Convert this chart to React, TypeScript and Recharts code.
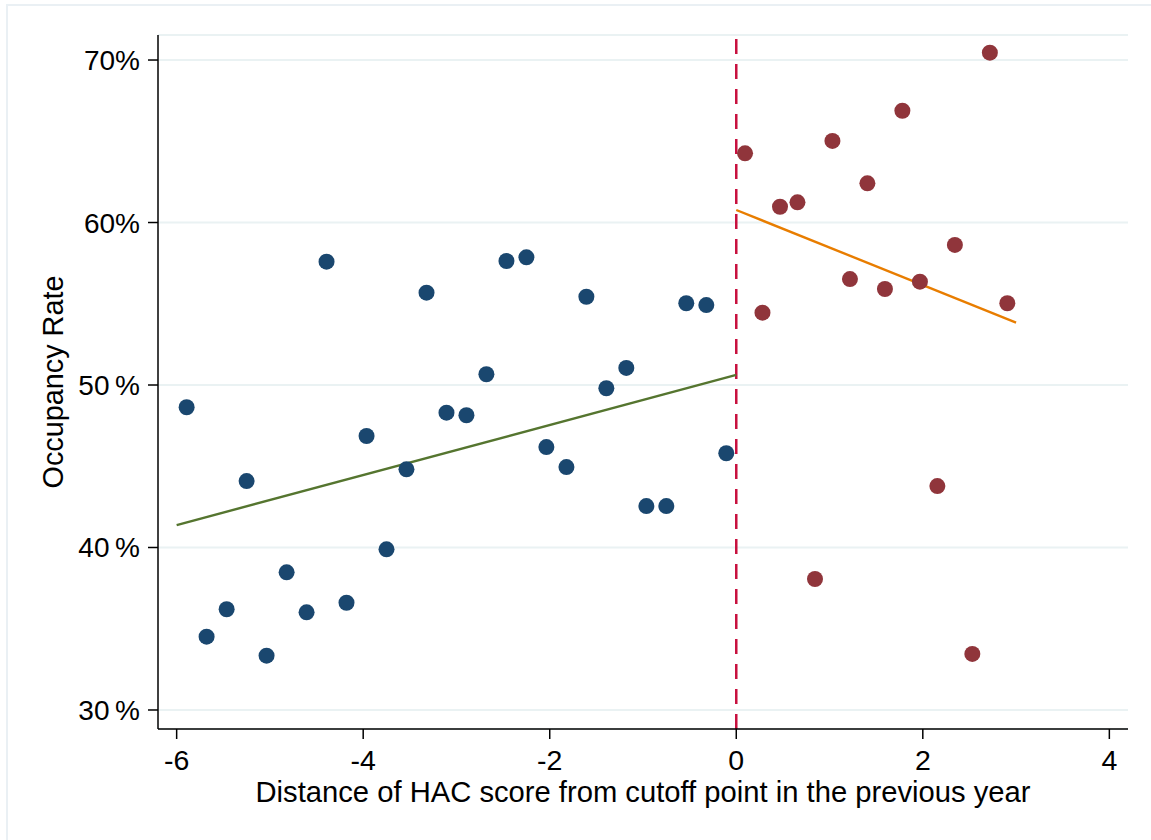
import React from 'react';
import { ComposedChart, Scatter, XAxis, YAxis, CartesianGrid, ReferenceLine } from 'recharts';

// Below-cutoff bins (blue)
const belowX = [-5.893, -5.679, -5.464, -5.25, -5.036, -4.821, -4.607, -4.393, -4.179, -3.964, -3.75, -3.536, -3.321, -3.107,
  -2.893, -2.679, -2.464, -2.25, -2.036, -1.821, -1.607, -1.393, -1.179, -0.964, -0.75, -0.536, -0.321, -0.107];
const belowY = [48.63, 34.51, 36.2, 44.09, 33.34, 38.47, 36.01, 57.59, 36.6, 46.86, 39.89, 44.81, 55.68, 48.3,
  48.14, 50.66, 57.63, 57.86, 46.18, 44.95, 55.43, 49.8, 51.05, 42.55, 42.55, 55.03, 54.92, 45.8];

// Above-cutoff bins (red)
const aboveX = [0.094, 0.281, 0.469, 0.656, 0.844, 1.031, 1.219, 1.406, 1.594, 1.781, 1.969, 2.156, 2.344, 2.531, 2.719, 2.906];
const aboveY = [64.26, 54.45, 60.97, 61.24, 38.06, 65.02, 56.52, 62.41, 55.91, 66.88, 56.36, 43.78, 58.62, 33.45, 70.45, 55.03];

// Linear fits
const fitBelowX = [-6, 0];
const fitBelowY = [41.38, 50.62];
const fitAboveX = [0, 3];
const fitAboveY = [60.77, 53.84];

const xTicks = [-6, -4, -2, 0, 2, 4];
const yTicks = [30, 40, 50, 60, 70];
const yTickLabels = ['30\u2009%', '40\u2009%', '50\u2009%', '60%', '70%'];

const xTitle = 'Distance of HAC score from cutoff point in the previous year';
const yTitle = 'Occupancy Rate';

const zip = (xs: number[], ys: number[]) => xs.map((x, i) => ({ x, y: ys[i] }));
const belowData = zip(belowX, belowY);
const aboveData = zip(aboveX, aboveY);
const fitBelowData = zip(fitBelowX, fitBelowY);
const fitAboveData = zip(fitAboveX, fitAboveY);

const FONT = '"Liberation Sans", Arial, sans-serif';

const dot = (color: string) => (props: any) => (
  <circle cx={props.cx} cy={props.cy} r={8} fill={color} />
);
const noDot = () => <g />;

const XTick = (props: any) => {
  const { x, y, payload } = props;
  return (
    <text x={x} y={y} dy={31} textAnchor="middle" fontSize={28.5} fontFamily={FONT} fill="#000">
      {payload.value}
    </text>
  );
};

const YTick = (props: any) => {
  const { x, y, payload } = props;
  const idx = yTicks.indexOf(payload.value);
  return (
    <text x={x} y={y} dx={-8} dy={10} textAnchor="end" fontSize={28} fontFamily={FONT} fill="#000">
      {idx >= 0 ? yTickLabels[idx] : payload.value}
    </text>
  );
};

export default function App() {
  return (
    <div style={{ position: 'absolute', left: 0, top: 0, width: 1151, height: 840, background: '#fff', overflow: 'hidden' }}>
      <div style={{ position: 'absolute', left: 6, top: 4, width: 1151, height: 840, borderTop: '2px solid #eaf0f4', borderLeft: '2px solid #eaf0f4' }} />
      <div style={{ position: 'absolute', left: 0, top: 0 }}>
        <ComposedChart width={1151} height={840} margin={{ top: 35, right: 23, bottom: 0, left: 0 }}>
          <CartesianGrid horizontal={true} vertical={false} stroke="#eaf2f3" strokeWidth={2} />
          <XAxis
            type="number"
            dataKey="x"
            domain={[-6.2, 4.2]}
            allowDataOverflow
            ticks={xTicks}
            height={111}
            tickSize={10}
            tickMargin={0}
            stroke="#000"
            strokeWidth={1.5}
            tick={<XTick />}
            tickLine={{ stroke: '#000', strokeWidth: 1.5 }}
            label={{
              content: () => (
                <text x={643} y={802} textAnchor="middle" fontSize={29.2} fontFamily={FONT} fill="#000">
                  {xTitle}
                </text>
              ),
            }}
          />
          <YAxis
            type="number"
            dataKey="y"
            domain={[28.83, 71.54]}
            allowDataOverflow
            ticks={yTicks}
            width={158}
            tickSize={10}
            tickMargin={0}
            stroke="#000"
            strokeWidth={1.5}
            tick={<YTick />}
            tickLine={{ stroke: '#000', strokeWidth: 1.5 }}
            label={{
              content: () => (
                <text x={63} y={382} transform="rotate(-90, 63, 382)" textAnchor="middle" fontSize={28.8} fontFamily={FONT} fill="#000">
                  {yTitle}
                </text>
              ),
            }}
          />
          <Scatter data={fitBelowData} line={{ stroke: '#55752f', strokeWidth: 2.4 }} shape={noDot} isAnimationActive={false} />
          <Scatter data={fitAboveData} line={{ stroke: '#e87d00', strokeWidth: 2.4 }} shape={noDot} isAnimationActive={false} />
          <Scatter data={belowData} fill="#1a476f" shape={dot('#1a476f')} isAnimationActive={false} />
          <Scatter data={aboveData} fill="#90353b" shape={dot('#90353b')} isAnimationActive={false} />
          <ReferenceLine x={0} stroke="#c8103e" strokeWidth={2.5} strokeDasharray="15 10" />
        </ComposedChart>
      </div>
    </div>
  );
}
